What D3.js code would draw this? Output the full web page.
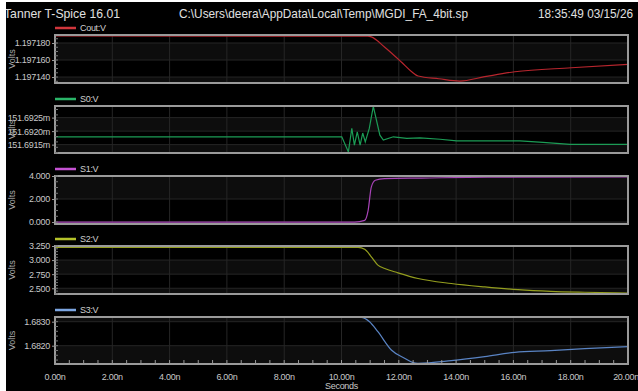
<!DOCTYPE html>
<html>
<head>
<meta charset="utf-8">
<script src="https://cdn.jsdelivr.net/npm/d3@7"></script>
<style>
  body { margin: 0; background: #000; }
  svg { display: block; }
  text { font-family: "Liberation Sans", Arial, sans-serif; }
  .narrow { font-family: "Liberation Sans Narrow", "Liberation Sans", Arial, sans-serif; letter-spacing: -0.3px; }
</style>
</head>
<body>
<svg id="chart" width="638" height="391"></svg>
<script>
// x axis (ns)
const xTickValues = [0, 2, 4, 6, 8, 10, 12, 14, 16, 18, 20];

// Cout:V
const coutT = [0, 10.92, 11.04, 11.5, 12.09, 12.44, 12.67, 13.4, 14.13, 15.0, 16.05, 18.02, 20.0];
const coutV = [1.1971882, 1.1971880, 1.1971872, 1.1971753, 1.1971576, 1.1971465, 1.1971412, 1.1971380, 1.1971353, 1.1971404, 1.1971462, 1.1971509, 1.1971550];
const coutTicks = [1.197140, 1.197160, 1.197180];

// S0:V (mV)
const s0T = [0, 10.01, 10.24, 10.36, 10.45, 10.55, 10.65, 10.74, 10.83, 10.97, 11.11, 11.34, 11.46, 11.81, 12.28, 12.74, 13.44, 14.02, 16.23, 17.03, 17.98, 20.0];
const s0V = [151.69179, 151.69179, 151.69123, 151.69210, 151.69148, 151.69197, 151.69148, 151.69193, 151.69160, 151.69210, 151.69292, 151.69185, 151.69167, 151.69179, 151.69173, 151.69175, 151.69170, 151.69164, 151.69164, 151.69158, 151.69151, 151.69151];
const s0Ticks = [151.6915, 151.6920, 151.6925];

// S1:V
const s1T = [0, 10.46, 10.81, 10.93, 11.04, 11.18, 11.5, 12.8, 15.1, 20.0];
const s1V = [0, 0, 0.15, 1.02, 3.04, 3.63, 3.77, 3.82, 3.9, 3.92];
const s1Ticks = [0, 2, 4];

// S2:V
const s2T = [0, 10.58, 10.81, 11.04, 11.27, 11.51, 11.97, 12.67, 13.83, 15.0, 16.16, 17.3, 18.49, 20.0];
const s2V = [3.227, 3.227, 3.191, 3.059, 2.911, 2.851, 2.774, 2.673, 2.584, 2.524, 2.476, 2.446, 2.429, 2.414];
const s2Ticks = [2.5, 2.75, 3.0, 3.25];

// S3:V
const s3T = [0, 10.69, 10.98, 11.27, 11.74, 12.2, 12.5, 12.67, 13.83, 15.0, 16.05, 17.3, 18.49, 20.0];
const s3V = [1.683183, 1.683183, 1.68300, 1.682583, 1.681821, 1.681475, 1.681292, 1.681267, 1.681375, 1.681542, 1.681725, 1.681792, 1.681875, 1.681960];
const s3Ticks = [1.682, 1.683];

const svg = d3.select('#chart');
const W = 638, H = 391;

svg.append('rect').attr('width', W).attr('height', H).attr('fill', '#000');

const x = d3.scaleLinear().domain([0, 20]).range([55, 628]);

const panels = [
  {name: 'Cout:V', color: '#d0363c', line: '#b8262e', t: coutT, v: coutV, ticks: coutTicks, fmt: d3.format('.6f'),
   domain: [1.197133, 1.1971894], top: 35, bottom: 83, curve: d3.curveMonotoneX},
  {name: 'S0:V', color: '#2ab468', line: '#1c9c56', t: s0T, v: s0V, ticks: s0Ticks, fmt: d => d3.format('.4f')(d) + 'm',
   domain: [151.69119, 151.69293], top: 106, bottom: 153, curve: d3.curveLinear},
  {name: 'S1:V', color: '#c452d2', line: '#a844b8', t: s1T, v: s1V, ticks: s1Ticks, fmt: d3.format('.3f'),
   domain: [-0.17, 4.0], top: 176, bottom: 224, curve: d3.curveMonotoneX},
  {name: 'S2:V', color: '#b4c22a', line: '#949e1e', t: s2T, v: s2V, ticks: s2Ticks, fmt: d3.format('.3f'),
   domain: [2.398, 3.25], top: 246, bottom: 294, curve: d3.curveMonotoneX},
  {name: 'S3:V', color: '#7ca6e2', line: '#5a84c4', t: s3T, v: s3V, ticks: s3Ticks, fmt: d3.format('.4f'),
   domain: [1.681237, 1.683196], top: 317, bottom: 364, curve: d3.curveMonotoneX}
];

panels.forEach((p, pi) => {
  const y = d3.scaleLinear().domain(p.domain).range([p.bottom, p.top]);
  const g = svg.append('g');
  const [x0, x1] = x.range();

  // alternating bands
  const edges = [p.bottom, ...p.ticks.map(y), p.top].sort((a, b) => b - a);
  for (let i = 0; i < edges.length - 1; i++) {
    if (i % 2 === 1) continue;
    g.append('rect')
      .attr('x', x0).attr('y', edges[i + 1])
      .attr('width', x1 - x0).attr('height', edges[i] - edges[i + 1])
      .attr('fill', '#0d0d0d');
  }

  // grid
  g.selectAll('.vg').data(xTickValues.slice(1, -1)).join('line')
    .attr('x1', d => x(d)).attr('x2', d => x(d))
    .attr('y1', p.top).attr('y2', p.bottom)
    .attr('stroke', '#262626').attr('stroke-width', 1);
  g.selectAll('.hg').data(p.ticks).join('line')
    .attr('x1', x0).attr('x2', x1)
    .attr('y1', d => y(d)).attr('y2', d => y(d))
    .attr('stroke', '#262626').attr('stroke-width', 1);

  svg.append('clipPath').attr('id', 'clip' + pi)
    .append('rect').attr('x', x0).attr('y', p.top - 1).attr('width', x1 - x0).attr('height', p.bottom - p.top + 2);

  const line = d3.line()
    .x((d, i) => x(p.t[i]))
    .y(d => y(d))
    .curve(p.curve);

  g.append('path')
    .datum(p.v)
    .attr('clip-path', `url(#clip${pi})`)
    .attr('d', line)
    .attr('fill', 'none')
    .attr('stroke', p.line)
    .attr('stroke-width', 1.2);

  // border
  g.append('rect')
    .attr('x', x0).attr('y', p.top)
    .attr('width', x1 - x0).attr('height', p.bottom - p.top)
    .attr('fill', 'none').attr('stroke', '#9a9a9a').attr('stroke-width', 2);

  // left axis
  const axis = d3.axisLeft(y).tickValues(p.ticks).tickFormat(p.fmt).tickSize(3).tickPadding(2);
  const ag = g.append('g').attr('transform', `translate(${x0},0)`).call(axis);
  ag.select('.domain').remove();
  ag.selectAll('line').attr('stroke', '#9a9a9a');
  ag.selectAll('text').attr('class', 'narrow').attr('fill', '#c8c8c8').attr('font-size', 9);

  // minor ticks inside left edge
  const minor = y.ticks(p.ticks.length * 4);
  g.selectAll('.mt').data(minor).join('line')
    .attr('x1', x0).attr('x2', x0 + 3)
    .attr('y1', d => y(d)).attr('y2', d => y(d))
    .attr('stroke', '#777');

  // Volts label
  g.append('text')
    .attr('transform', `translate(15,${(p.top + p.bottom) / 2}) rotate(-90)`)
    .attr('text-anchor', 'middle')
    .attr('fill', '#aaa').attr('font-size', 9)
    .text('Volts');

  // legend
  g.append('line')
    .attr('x1', 55).attr('x2', 76)
    .attr('y1', p.top - 7).attr('y2', p.top - 7)
    .attr('stroke', p.color).attr('stroke-width', 2.5);
  g.append('text')
    .attr('class', 'narrow')
    .attr('x', 80).attr('y', p.top - 4)
    .attr('fill', '#d0d0d0').attr('font-size', 9)
    .text(p.name);

  // bottom axis on last panel
  if (pi === panels.length - 1) {
    const minorX = d3.range(0, 20.01, 0.5);
    g.selectAll('.xm').data(minorX).join('line')
      .attr('x1', d => x(d)).attr('x2', d => x(d))
      .attr('y1', p.bottom).attr('y2', p.bottom - 4)
      .attr('stroke', '#9a9a9a');
    g.selectAll('.xl').data(xTickValues).join('text')
      .attr('class', 'narrow')
      .attr('x', d => d === 20 ? x(d) - 2 : x(d)).attr('y', 380)
      .attr('text-anchor', 'middle')
      .attr('fill', '#c8c8c8').attr('font-size', 9)
      .text(d => d3.format('.2f')(d) + 'n');
    g.append('text')
      .attr('class', 'narrow')
      .attr('x', x(10)).attr('y', 389)
      .attr('text-anchor', 'middle')
      .attr('fill', '#c8c8c8').attr('font-size', 9)
      .text('Seconds');
  }
});

// header
const header = [
  {text: 'Tanner T-Spice 16.01', x: 4, len: 116, size: 13.5},
  {text: 'C:\\Users\\deera\\AppData\\Local\\Temp\\MGDI_FA_4bit.sp', x: 179, len: 289, size: 13.5},
  {text: '18:35:49 03/15/26', x: 538, len: 95, size: 12}
];
svg.selectAll('.hdr').data(header).join('text')
  .attr('x', d => d.x).attr('y', 18)
  .attr('fill', '#e0e0e0').attr('font-size', d => d.size)
  .attr('textLength', d => d.len).attr('lengthAdjust', 'spacingAndGlyphs')
  .text(d => d.text);

// white edges from the screenshot frame
svg.append('rect').attr('x', 0).attr('y', 0).attr('width', 6).attr('height', H).attr('fill', '#fff');
svg.append('rect').attr('x', 0).attr('y', 0).attr('width', W).attr('height', 2).attr('fill', '#fff');
</script>
</body>
</html>
